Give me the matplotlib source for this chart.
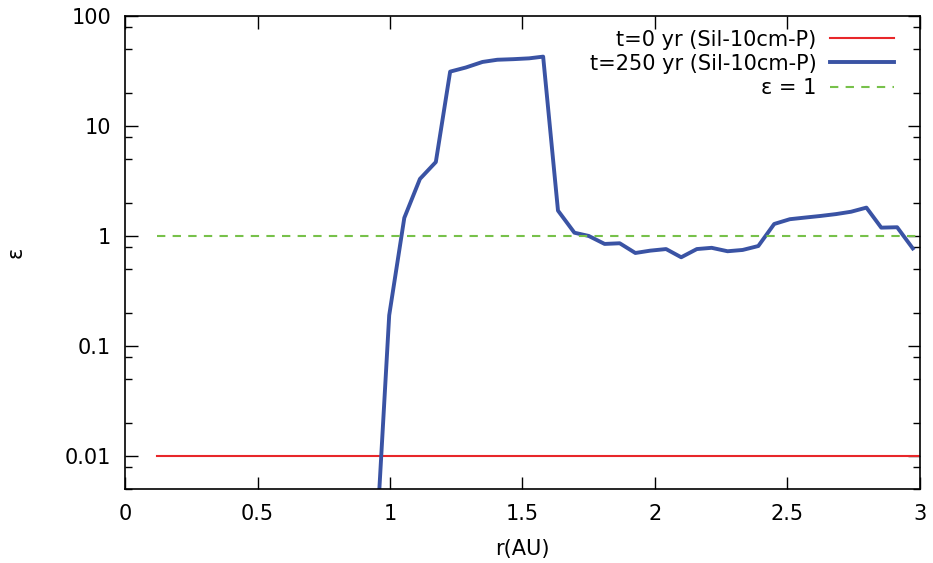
import matplotlib
matplotlib.use("Agg")
import matplotlib.pyplot as plt
from matplotlib.ticker import FixedLocator, NullFormatter, FixedFormatter

# data
r_t0 = [0.12, 3.0]
eps_t0 = [0.01, 0.01]

r_t250 = [0.95, 0.997, 1.054, 1.113, 1.173, 1.227, 1.286, 1.349, 1.405, 1.466, 1.525, 1.578,
          1.634, 1.696, 1.75, 1.81, 1.867, 1.926, 1.982, 2.042, 2.099, 2.158, 2.214, 2.274,
          2.331, 2.39, 2.45, 2.509, 2.567, 2.625, 2.683, 2.74, 2.798, 2.854, 2.914, 2.973]
eps_t250 = [0.0019, 0.19, 1.46, 3.3, 4.7, 31.2, 34.0, 38.2, 40.0, 40.5, 41.2, 42.7,
            1.7, 1.07, 1.0, 0.846, 0.858, 0.70, 0.735, 0.76, 0.64, 0.76, 0.78, 0.726,
            0.746, 0.81, 1.285, 1.42, 1.47, 1.52, 1.58, 1.66, 1.81, 1.19, 1.2, 0.77]

r_one = [0.12, 3.0]
eps_one = [1.0, 1.0]

xticks = [0, 0.5, 1, 1.5, 2, 2.5, 3]
xticklabels = ["0", "0.5", "1", "1.5", "2", "2.5", "3"]
yticks = [0.01, 0.1, 1, 10, 100]
yticklabels = ["0.01", "0.1", "1", "10", "100"]

plt.rcParams['font.family'] = ['DejaVu Sans']
fig = plt.figure(figsize=(9.33, 5.63), dpi=100)
ax = fig.add_axes([0.134, 0.1314, 0.852, 0.8402])

ax.plot(r_t0, eps_t0, color='#e8272a', lw=1.5, label='t=0 yr (Sil-10cm-P)')
ax.plot(r_t250, eps_t250, color='#3a53a4', lw=2.8, label='t=250 yr (Sil-10cm-P)')
ax.plot(r_one, eps_one, color='#77c14a', lw=1.5, ls=(0, (4, 3.5)), label='ε = 1')

ax.set_yscale('log')
ax.set_xlim(0, 3)
ax.set_ylim(0.005, 100)
ax.yaxis.set_major_locator(FixedLocator(yticks))
ax.yaxis.set_major_formatter(FixedFormatter(yticklabels))
minor = []
for d in [0.001, 0.01, 0.1, 1, 10]:
    for m in (2, 5, 8):
        minor.append(m * d)
ax.yaxis.set_minor_locator(FixedLocator(minor))
ax.yaxis.set_minor_formatter(NullFormatter())
ax.set_xticks(xticks)
ax.set_xticklabels(xticklabels)

ax.tick_params(which='both', direction='in', top=True, right=True, labelsize=15, colors='black')
ax.tick_params(which='major', length=9, width=1)
ax.tick_params(which='minor', length=5, width=1)
ax.tick_params(axis='x', pad=10.5)
ax.tick_params(axis='y', pad=10)
for s in ax.spines.values():
    s.set_linewidth(1.2)

ax.set_xlabel('r(AU)', fontsize=15, labelpad=11)
ax.set_ylabel('ε', fontsize=15)
ax.yaxis.set_label_coords(-0.125, 0.5)

ax.legend(loc='upper right', frameon=False, markerfirst=False, fontsize=15,
          handlelength=3.1, handletextpad=0.65, labelspacing=0.2,
          borderaxespad=0.25, bbox_to_anchor=(0.985, 1.0))

fig.savefig('out.png', dpi=100)
